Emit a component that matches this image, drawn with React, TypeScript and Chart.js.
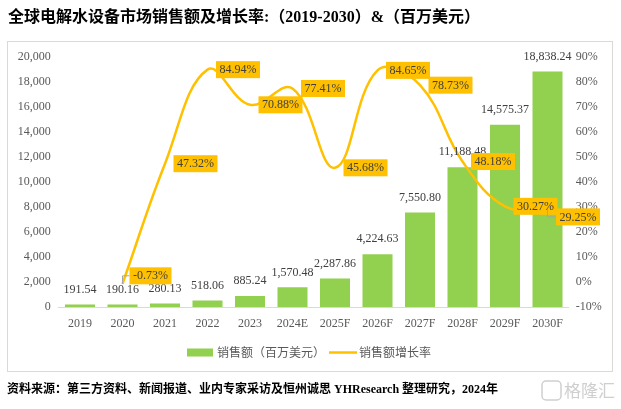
import React, { useEffect, useRef } from 'react';
import { Chart, registerables } from 'chart.js';

Chart.register(...registerables);

const categories = ['2019', '2020', '2021', '2022', '2023', '2024E', '2025F', '2026F', '2027F', '2028F', '2029F', '2030F'];
const salesValues = [191.54, 190.16, 280.13, 518.06, 885.24, 1570.48, 2287.86, 4224.63, 7550.8, 11188.48, 14575.37, 18838.24];
const growthRates = [null, -0.73, 47.32, 84.94, 70.88, 77.41, 45.68, 84.65, 78.73, 48.18, 30.27, 29.25];

const TITLE = '全球电解水设备市场销售额及增长率:（2019-2030）&（百万美元）';
const SOURCE = '资料来源：第三方资料、新闻报道、业内专家采访及恒州诚思 YHResearch 整理研究，2024年';
const LEGEND_BAR = '销售额（百万美元）';
const LEGEND_LINE = '销售额增长率';
const WATERMARK = '格隆汇';

const SERIF = "'Liberation Serif', 'Times New Roman', serif";
const MIXED = "'Liberation Serif', 'Noto Sans CJK SC', serif";
const CJK = "'Noto Sans CJK SC', sans-serif";

const BAR_COLOR = '#92D050';
const LINE_COLOR = '#FFC000';

const fmt = (v: number) =>
  v.toLocaleString('en-US', { minimumFractionDigits: 2, maximumFractionDigits: 2 });

const labelShift = (i: number): [number, number] => {
  if (i === 1) return [28, -8];
  if (i === 11) return [30.5, 8];
  return [30.5, 0];
};

const decorPlugin = {
  id: 'decor',
  beforeDraw(chart: any) {
    const ctx = chart.ctx;
    ctx.save();
    ctx.fillStyle = '#ffffff';
    ctx.fillRect(0, 0, chart.width, chart.height);
    ctx.strokeStyle = '#d9d9d9';
    ctx.lineWidth = 1;
    ctx.strokeRect(7.5, 41.5, 605, 330);
    ctx.restore();
  },
  afterDatasetsDraw(chart: any) {
    const ctx = chart.ctx;
    ctx.save();
    ctx.font = `12px ${SERIF}`;
    ctx.textAlign = 'center';
    ctx.textBaseline = 'middle';
    const barMeta = chart.getDatasetMeta(0);
    barMeta.data.forEach((el: any, i: number) => {
      ctx.fillStyle = '#404040';
      ctx.fillText(fmt(salesValues[i]), el.x, el.y - 15);
    });
    const lineMeta = chart.getDatasetMeta(1);
    lineMeta.data.forEach((el: any, i: number) => {
      const v = growthRates[i];
      if (v === null || v === undefined) return;
      const text = v.toFixed(2) + '%';
      const [dx, dy] = labelShift(i);
      const w = ctx.measureText(text).width + 7;
      const h = 17;
      const cx = el.x + dx;
      const cy = el.y + dy;
      if (dy !== 0) {
        ctx.strokeStyle = '#a6a6a6';
        ctx.lineWidth = 1;
        ctx.beginPath();
        ctx.moveTo(el.x, el.y);
        ctx.lineTo(el.x, cy);
        ctx.lineTo(cx - w / 2, cy);
        ctx.stroke();
      }
      ctx.fillStyle = LINE_COLOR;
      ctx.fillRect(cx - w / 2, cy - h / 2, w, h);
      ctx.fillStyle = '#404040';
      ctx.fillText(text, cx, cy + 0.5);
    });
    ctx.restore();
  },
  afterDraw(chart: any) {
    const ctx = chart.ctx;
    ctx.save();
    // title
    ctx.fillStyle = '#000000';
    ctx.textAlign = 'left';
    ctx.textBaseline = 'middle';
    ctx.font = `bold 16px ${MIXED}`;
    ctx.fillText(TITLE, 8, 18);
    // legend
    const ly = 352.5;
    ctx.fillStyle = BAR_COLOR;
    ctx.fillRect(187, ly - 4, 26, 8);
    ctx.font = `12px ${CJK}`;
    ctx.fillStyle = '#595959';
    ctx.fillText(LEGEND_BAR, 217, ly);
    ctx.strokeStyle = LINE_COLOR;
    ctx.lineWidth = 2.5;
    ctx.beginPath();
    ctx.moveTo(329, ly);
    ctx.lineTo(357, ly);
    ctx.stroke();
    ctx.fillText(LEGEND_LINE, 359, ly);
    // source
    ctx.fillStyle = '#000000';
    ctx.font = `bold 12px ${MIXED}`;
    ctx.fillText(SOURCE, 7, 390);
    // watermark
    ctx.strokeStyle = '#cfcfcf';
    ctx.lineWidth = 1.5;
    ctx.beginPath();
    ctx.roundRect(542, 381, 19, 19, 4);
    ctx.stroke();
    ctx.fillStyle = '#cfcfcf';
    ctx.font = `17px ${CJK}`;
    ctx.fillText(WATERMARK, 564, 391);
    ctx.restore();
  },
};

export default function App() {
  const ref = useRef<HTMLCanvasElement | null>(null);

  useEffect(() => {
    if (!ref.current) return;
    const chart = new Chart(ref.current, {
      type: 'bar',
      data: {
        labels: categories,
        datasets: [
          {
            type: 'bar',
            label: LEGEND_BAR,
            data: salesValues,
            backgroundColor: BAR_COLOR,
            yAxisID: 'y',
            barPercentage: 0.706,
            categoryPercentage: 1,
            order: 2,
          },
          {
            type: 'line',
            label: LEGEND_LINE,
            data: growthRates as any,
            borderColor: LINE_COLOR,
            backgroundColor: LINE_COLOR,
            borderWidth: 2.5,
            pointRadius: 0,
            tension: 0.4,
            yAxisID: 'y1',
            order: 1,
          },
        ],
      } as any,
      options: {
        responsive: false,
        animation: false,
        devicePixelRatio: 1,
        layout: { padding: { top: 57, left: 0, right: 0, bottom: 0 } },
        plugins: { legend: { display: false }, tooltip: { enabled: false } },
        scales: {
          x: {
            grid: { display: false, drawTicks: false },
            border: { display: true, color: '#d9d9d9' },
            ticks: {
              font: { family: SERIF, size: 12 },
              color: '#595959',
              padding: 10,
              maxRotation: 0,
              autoSkip: false,
            },
            afterFit(s: any) {
              s.height = 102;
              s.paddingLeft = 0;
              s.paddingRight = 0;
            },
          },
          y: {
            position: 'left',
            min: 0,
            max: 20000,
            grid: { display: false, drawTicks: false },
            border: { display: false },
            ticks: {
              stepSize: 2000,
              font: { family: SERIF, size: 12 },
              color: '#595959',
              padding: 8,
              callback: (v: any) => Number(v).toLocaleString('en-US'),
            },
            afterFit(s: any) {
              s.width = 58.75;
              s.paddingTop = 0;
              s.paddingBottom = 0;
            },
          },
          y1: {
            position: 'right',
            min: -10,
            max: 90,
            grid: { display: false, drawTicks: false },
            border: { display: false },
            ticks: {
              stepSize: 10,
              font: { family: SERIF, size: 12 },
              color: '#595959',
              padding: 7,
              callback: (v: any) => `${v}%`,
            },
            afterFit(s: any) {
              s.width = 52.25;
              s.paddingTop = 0;
              s.paddingBottom = 0;
            },
          },
        },
      } as any,
      plugins: [decorPlugin],
    });
    return () => chart.destroy();
  }, []);

  return (
    <div style={{ position: 'fixed', left: 0, top: 0, width: 621, height: 409, background: '#fff' }}>
      <canvas ref={ref} width={621} height={409} style={{ display: 'block', width: 621, height: 409 }} />
    </div>
  );
}
